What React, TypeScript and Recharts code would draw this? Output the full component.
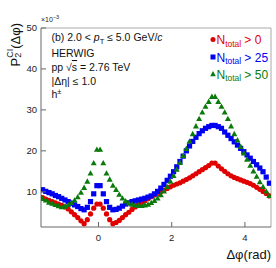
import React from "react";
import {
  ScatterChart,
  Scatter,
  XAxis,
  YAxis,
  ReferenceLine,
} from "recharts";

// 72 bins in delta-phi, from -pi/2 to 3pi/2
const nBins = 72;
const dphi = Array.from({ length: nBins }, (_, i) => -Math.PI / 2 + (i + 0.5) * (Math.PI / 36));

// values in units of 1e-3
const ntot0 = [
  8.6, 8.2, 7.9, 7.6, 7.3, 7.0, 6.7, 6.3, 5.8, 5.1, 4.4, 3.7, 2.9, 2.2, 3.2, 4.6, 6.0, 7.0,
  7.0, 6.0, 4.6, 3.2, 2.2, 2.5, 3.0, 3.7, 4.4, 5.0, 5.7, 6.3, 6.8, 7.3, 7.8, 8.3, 8.8, 9.2,
  9.6, 10.0, 10.4, 10.8, 11.2, 11.6, 11.9, 12.2, 12.6, 13.0, 13.4, 13.9, 14.4, 14.9, 15.4, 15.9, 16.4, 17.0,
  17.0, 16.3, 15.6, 15.0, 14.4, 13.9, 13.5, 13.2, 12.9, 12.6, 12.3, 12.0, 11.6, 11.1, 10.6, 10.1, 9.6, 9.0,
];

const ntot25 = [
  10.5, 10.1, 9.8, 9.5, 9.1, 8.8, 8.4, 8.0, 7.6, 7.2, 6.8, 6.4, 5.9, 5.6, 6.2, 7.6, 9.5, 11.5,
  11.5, 9.5, 7.6, 6.2, 5.6, 5.7, 6.0, 6.5, 7.0, 7.3, 7.6, 7.8, 8.0, 8.2, 8.4, 8.7, 9.0, 9.5,
  10.1, 10.9, 11.8, 12.8, 13.8, 14.9, 16.1, 17.4, 18.7, 20.0, 21.2, 22.3, 23.3, 24.2, 24.9, 25.5, 25.9, 26.2,
  26.2, 25.9, 25.5, 24.6, 23.8, 23.0, 22.2, 21.4, 20.6, 19.8, 19.0, 18.2, 17.4, 16.6, 15.8, 14.9, 13.6, 12.1,
];

const ntot50 = [
  8.3, 7.9, 7.4, 7.1, 6.8, 6.5, 6.3, 6.4, 6.8, 7.3, 7.9, 8.7, 9.8, 11.0, 12.5, 14.5, 17.0, 20.3,
  20.3, 17.0, 14.5, 13.0, 11.5, 10.5, 9.3, 8.4, 7.7, 7.2, 6.9, 6.7, 6.6, 6.6, 6.7, 6.9, 7.3, 7.8,
  8.4, 9.2, 10.1, 11.2, 12.5, 13.9, 15.4, 17.1, 18.8, 20.5, 22.3, 24.1, 26.0, 27.8, 29.4, 30.8, 32.0, 33.2,
  33.2, 32.0, 30.8, 29.4, 27.8, 26.0, 24.1, 22.6, 21.0, 19.4, 17.9, 16.4, 15.0, 13.7, 12.4, 11.2, 10.1, 9.0,
];

const xTicks = [0, 2, 4];
const yTicks = [10, 20, 30, 40, 50];

const RED = "#e00000";
const BLUE = "#0000f0";
const GREEN = "#0a7a0a";
const FONT = "'Liberation Sans', Arial, sans-serif";

const toPoints = (vals: number[]) => vals.map((v, i) => ({ x: dphi[i], y: v }));

const Dot = (p: any) => <circle cx={p.cx} cy={p.cy} r={2.6} fill={RED} />;
const Square = (p: any) => <rect x={p.cx - 2.6} y={p.cy - 2.6} width={5.2} height={5.2} fill={BLUE} />;
const Tri = (p: any) => (
  <polygon
    points={`${p.cx},${p.cy - 3.2} ${p.cx - 3},${p.cy + 2.2} ${p.cx + 3},${p.cy + 2.2}`}
    fill={GREEN}
  />
);

const XTick = (p: any) => (
  <g>
    <line x1={p.x} y1={p.y} x2={p.x} y2={p.y - 5} stroke="#666" />
    <text x={p.x} y={p.y + 13.5} textAnchor="middle" fontSize={9.5} fontFamily={FONT} fill="#222">
      {p.payload.value}
    </text>
  </g>
);

const YTick = (p: any) => (
  <g>
    <line x1={p.x} y1={p.y} x2={p.x + 5} y2={p.y} stroke="#666" />
    <text x={p.x - 4} y={p.y + 3.4} textAnchor="end" fontSize={9.5} fontFamily={FONT} fill="#222">
      {p.payload.value}
    </text>
  </g>
);

const legendRows = [
  { label: "> 0", color: RED, y: 44, marker: "dot" },
  { label: "> 25", color: BLUE, y: 61.5, marker: "square" },
  { label: "> 50", color: GREEN, y: 78.5, marker: "tri" },
];

export default function App() {
  const xMin = -Math.PI / 2;
  const xMax = (3 * Math.PI) / 2;
  return (
    <div style={{ position: "absolute", left: 0, top: 0, width: 276, height: 268, background: "#fff" }}>
      <ScatterChart width={276} height={268} margin={{ top: 28, right: 5, bottom: 0, left: 0 }}>
        <XAxis
          type="number"
          dataKey="x"
          domain={[xMin, xMax]}
          allowDataOverflow
          ticks={xTicks}
          height={41}
          tickSize={0}
          tickMargin={0}
          tickLine={false}
          tick={<XTick />}
          axisLine={{ stroke: "#666" }}
        />
        <YAxis
          type="number"
          dataKey="y"
          domain={[1.4, 50]}
          allowDataOverflow
          ticks={yTicks}
          width={41}
          tickSize={0}
          tickMargin={0}
          tickLine={false}
          tick={<YTick />}
          axisLine={{ stroke: "#666" }}
        />
        <ReferenceLine y={50} stroke="#aaa" />
        <ReferenceLine x={xMax} stroke="#aaa" />
        <Scatter data={toPoints(ntot0)} shape={<Dot />} isAnimationActive={false} />
        <Scatter data={toPoints(ntot25)} shape={<Square />} isAnimationActive={false} />
        <Scatter data={toPoints(ntot50)} shape={<Tri />} isAnimationActive={false} />
      </ScatterChart>

      <svg
        width={276}
        height={268}
        style={{ position: "absolute", left: 0, top: 0, pointerEvents: "none" }}
        fontFamily={FONT}
      >
        {/* y axis title */}
        <text transform="translate(20,23) rotate(-90)" textAnchor="end" fontSize={13} fill="#111">
          P
          <tspan fontSize={9} dy={1}>2</tspan>
          <tspan fontSize={9} dx={-5} dy={-7.6}>CI</tspan>
          <tspan dy={6.6}>(Δφ)</tspan>
        </text>
        <text x={41} y={22} fontSize={7} fill="#222">
          ×10<tspan fontSize={5.5} dy={-3}>−3</tspan>
        </text>

        {/* x axis title */}
        <text x={271} y={259} textAnchor="end" fontSize={13} fill="#111">
          Δφ(rad)
        </text>

        {/* info block */}
        <g fontSize={10.5} fill="#111">
          <text x={51.5} y={41}>
            (b) 2.0 &lt; <tspan fontStyle="italic">p</tspan>
            <tspan fontSize={7.5} dy={2.5}>T</tspan>
            <tspan dy={-2.5}> ≤ 5.0 GeV/</tspan>
            <tspan fontStyle="italic">c</tspan>
          </text>
          <text x={51.5} y={56.5}>HERWIG</text>
          <text x={51.5} y={71}>
            pp √<tspan textDecoration="overline">s</tspan> = 2.76 TeV
          </text>
          <text x={51.5} y={85}>|Δη| ≤ 1.0</text>
          <text x={51.5} y={98}>
            h<tspan fontSize={7.5} dy={-4}>±</tspan>
          </text>
        </g>

        {/* legend */}
        {legendRows.map((r) => (
          <g key={r.label}>
            {r.marker === "dot" && <circle cx={213} cy={r.y - 4.5} r={2.5} fill={r.color} />}
            {r.marker === "square" && (
              <rect x={210.5} y={r.y - 7} width={5} height={5} fill={r.color} />
            )}
            {r.marker === "tri" && (
              <polygon
                points={`${213},${r.y - 7.5} ${210.2},${r.y - 2.3} ${215.8},${r.y - 2.3}`}
                fill={r.color}
              />
            )}
            <text x={216.5} y={r.y} fontSize={12} fill={r.color}>
              N<tspan fontSize={8.4} dy={2.5}>total</tspan>
              <tspan dy={-2.5}> {r.label}</tspan>
            </text>
          </g>
        ))}
      </svg>
    </div>
  );
}
